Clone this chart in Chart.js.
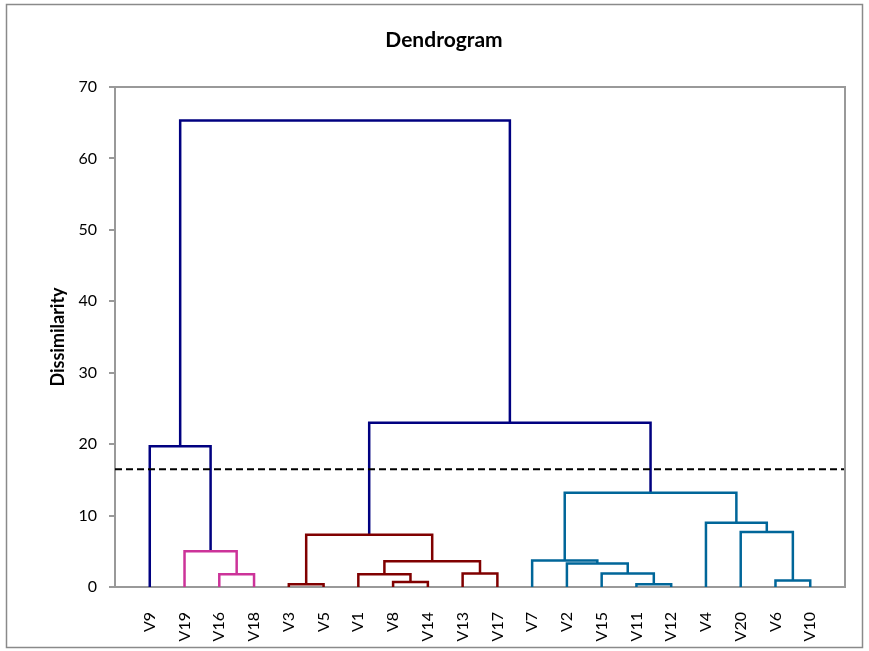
<!DOCTYPE html>
<html>
<head>
<meta charset="utf-8">
<script src="https://cdn.jsdelivr.net/npm/chart.js@4.4.1/dist/chart.umd.min.js"></script>
<style>
  html, body { margin: 0; padding: 0; background: #ffffff; }
  #wrap { position: relative; width: 869px; height: 651px; }
</style>
</head>
<body>
<div id="wrap"><canvas id="c" width="869" height="651"></canvas></div>
<script>
// ---- data ----
// leaves in display order (node ids 0..19)
const leafLabels = ['V9','V19','V16','V18','V3','V5','V1','V8','V14','V13','V17','V7','V2','V15','V11','V12','V4','V20','V6','V10'];
// merges: node id = 20 + index
const mergeLeft   = [4, 14, 7, 18, 2, 6, 9, 13, 12, 25, 11, 1, 20, 17, 16, 30, 0, 32, 36];
const mergeRight  = [5, 15, 8, 19, 3, 22, 10, 21, 27, 26, 28, 24, 29, 23, 33, 34, 31, 35, 37];
const mergeHeight = [0.4, 0.4, 0.7, 0.9, 1.8, 1.8, 1.9, 1.9, 3.3, 3.6, 3.7, 5.0, 7.3, 7.7, 9.0, 13.2, 19.7, 23.0, 65.3];
const cutLevel = 16.5;
const yTicks = [0, 10, 20, 30, 40, 50, 60, 70];

// ---- styling ----
const aboveColor = '#000080';
const clusterPalette = ['#CC3399', '#800000', '#006699'];
const FONT = 'Lato, "Open Sans", "DejaVu Sans", sans-serif';
const PAD_LEFT = 43;

// ---- build geometry from data ----
const nLeaves = leafLabels.length;
const nodeX = [], nodeH = [], parent = [];
for (let i = 0; i < nLeaves; i++) { nodeX.push(i + 1); nodeH.push(0); }
mergeLeft.forEach((l, k) => {
  const r = mergeRight[k];
  nodeX.push((nodeX[l] + nodeX[r]) / 2);
  nodeH.push(mergeHeight[k]);
  parent[l] = nLeaves + k; parent[r] = nLeaves + k;
});
function clusterRoot(n) {
  while (parent[n] !== undefined && nodeH[parent[n]] <= cutLevel) n = parent[n];
  return n;
}
const rootColor = {};
let ci = 0;
for (let i = 0; i < nLeaves; i++) {
  const r = clusterRoot(i);
  if (rootColor[r] === undefined && r >= nLeaves) rootColor[r] = clusterPalette[ci++ % clusterPalette.length];
}
const datasets = [{
  data: [{x: 0, y: cutLevel}, {x: nLeaves + 1, y: cutLevel}],
  borderColor: '#000000', borderWidth: 2, borderDash: [7, 4], pointRadius: 0
}];
mergeLeft.forEach((l, k) => {
  const r = mergeRight[k], h = mergeHeight[k], id = nLeaves + k;
  const col = h > cutLevel ? aboveColor : rootColor[clusterRoot(id)];
  datasets.push({
    data: [{x: nodeX[l], y: nodeH[l]}, {x: nodeX[l], y: h}, {x: nodeX[r], y: h}, {x: nodeX[r], y: nodeH[r]}],
    borderColor: col, borderWidth: 2.5, pointRadius: 0
  });
});

const framePlugin = {
  id: 'frame',
  beforeDraw(chart) {
    const ctx = chart.ctx;
    ctx.save();
    ctx.fillStyle = '#ffffff';
    ctx.fillRect(0, 0, chart.width, chart.height);
    ctx.strokeStyle = '#8a8a8a';
    ctx.lineWidth = 1.5;
    ctx.strokeRect(6.5, 4.5, 856, 643);
    ctx.restore();
  },
  afterDraw(chart) {
    const a = chart.chartArea, ctx = chart.ctx;
    ctx.save();
    ctx.strokeStyle = '#999999';
    ctx.lineWidth = 2;
    ctx.beginPath();
    ctx.moveTo(a.left, a.top); ctx.lineTo(a.right, a.top); ctx.lineTo(a.right, a.bottom);
    ctx.stroke();
    ctx.restore();
  }
};

new Chart(document.getElementById('c'), {
  type: 'line',
  data: { datasets },
  plugins: [framePlugin],
  options: {
    responsive: false,
    animation: false,
    layout: { padding: { left: PAD_LEFT, right: 24, top: 0, bottom: 0 } },
    plugins: {
      legend: { display: false },
      tooltip: { enabled: false },
      title: {
        display: true, text: 'Dendrogram', color: '#000',
        font: { family: FONT, size: 21, weight: 'bold' },
        padding: { top: 28, bottom: 33.8 }
      }
    },
    scales: {
      x: {
        type: 'linear', min: 0, max: nLeaves + 1,
        afterBuildTicks(s) { s.ticks = leafLabels.map((_, i) => ({ value: i + 1 })); },
        afterFit(s) { s.height = 64; },
        ticks: {
          autoSkip: false, minRotation: 90, maxRotation: 90, padding: 25, color: '#000',
          font: { family: FONT, size: 16 },
          callback: (v) => leafLabels[v - 1]
        },
        grid: { display: false, drawTicks: false },
        border: { display: true, color: '#999999', width: 2 }
      },
      y: {
        min: 0, max: 70,
        afterBuildTicks(s) { s.ticks = yTicks.map(v => ({ value: v })); },
        afterFit(s) { s.width = 115 - PAD_LEFT; },
        title: {
          display: true, text: 'Dissimilarity', color: '#000',
          font: { family: FONT, size: 18, weight: 'bold' }, padding: { top: 4, bottom: 0 }
        },
        ticks: { color: '#000', padding: 12, font: { family: FONT, size: 16 } },
        grid: { display: true, drawOnChartArea: false, drawTicks: true, tickLength: 6, color: '#999999', lineWidth: 2 },
        border: { display: true, color: '#999999', width: 2 }
      }
    }
  }
});
</script>
</body>
</html>
